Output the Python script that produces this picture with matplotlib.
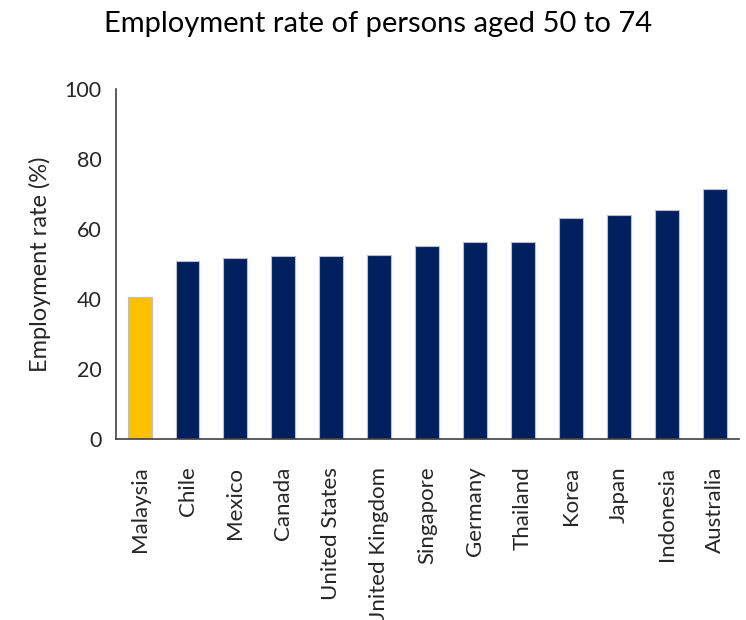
import matplotlib.pyplot as plt

# Employment rate of persons aged 50 to 74, by country
countries = ["Malaysia", "Chile", "Mexico", "Canada", "United States", "United Kingdom",
             "Singapore", "Germany", "Thailand", "Korea", "Japan", "Indonesia", "Australia"]
rates = [40.7, 50.8, 51.8, 52.2, 52.3, 52.7, 55.3, 56.3, 56.4, 63.3, 64.0, 65.6, 71.6]
highlight = "Malaysia"

plt.rcParams['font.family'] = ['Lato', 'DejaVu Sans']

fig = plt.figure(figsize=(7.46, 6.2), dpi=100)
ax = fig.add_axes([0.155, 0.292, 0.835, 0.564])

colors = ["#FFC000" if c == highlight else "#002060" for c in countries]
x = range(len(countries))
ax.bar(x, rates, width=0.5, color=colors, edgecolor="#BFBFBF", linewidth=0.8)

ax.set_xlim(-0.5, 12.5)
ax.set_ylim(0, 100)
ax.set_yticks(range(0, 101, 20))
ax.set_xticks(list(x))
ax.set_xticklabels(countries, rotation=90, fontsize=16, color="#262626")
ax.tick_params(axis="y", labelsize=15.5, colors="#262626", length=0, pad=10)
ax.tick_params(axis="x", length=0, pad=20)

for side in ["top", "right"]:
    ax.spines[side].set_visible(False)
for side in ["left", "bottom"]:
    ax.spines[side].set_color("#404040")
    ax.spines[side].set_linewidth(1.2)

ax.set_ylabel("Employment rate (%)", fontsize=17, color="#262626", labelpad=10)
fig.text(0.507, 0.962, "Employment rate of persons aged 50 to 74", ha="center", va="center",
         fontsize=21, color="black")

fig.savefig("out.png", dpi=100)
